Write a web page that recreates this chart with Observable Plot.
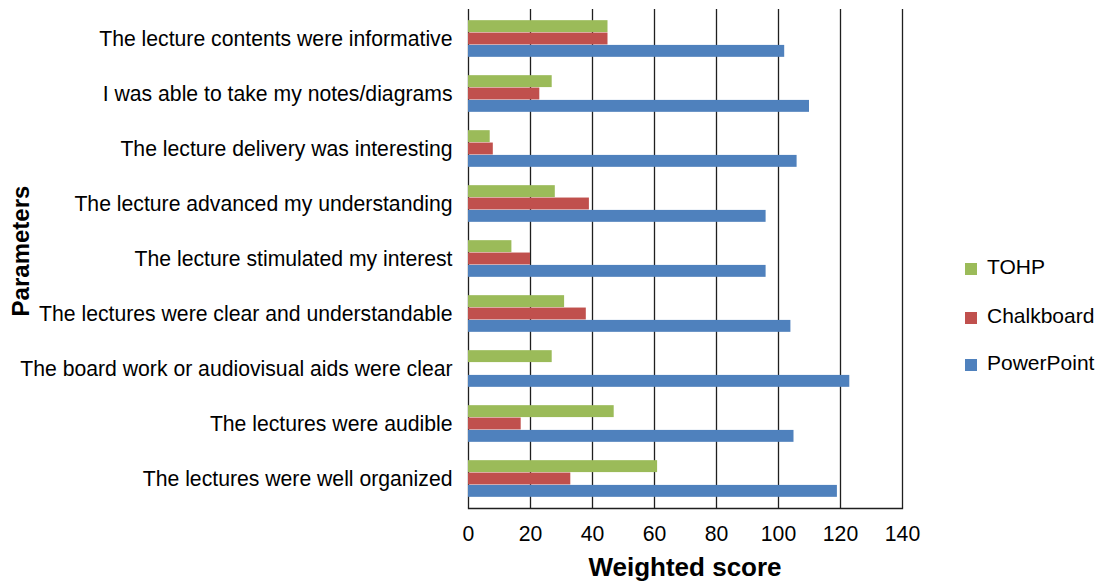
<!DOCTYPE html>
<html><head><meta charset="utf-8">
<script src="https://cdn.jsdelivr.net/npm/d3@7"></script>
<script src="https://cdn.jsdelivr.net/npm/@observablehq/plot@0.6"></script>
<style>
body{margin:0;background:#fff;}
#wrap{position:relative;width:1102px;height:582px;font-family:"Liberation Sans",Arial,sans-serif;color:#000;}
#wrap svg{position:absolute;left:0;top:0;}
.xlab{position:absolute;left:585px;top:550px;width:200px;text-align:center;font-weight:bold;font-size:26px;line-height:34px;white-space:nowrap;}
.ylab{position:absolute;left:21px;top:251px;transform:translate(-50%,-50%) rotate(-90deg);font-weight:bold;font-size:24px;line-height:30px;white-space:nowrap;}
.leg{position:absolute;left:965px;font-size:21px;line-height:24px;white-space:nowrap;}
.leg span.sw{display:inline-block;width:12px;height:12px;margin-right:10px;vertical-align:-1px;}
</style></head><body><div id="wrap"></div>
<script>
const categories = [
  "The lecture contents were informative",
  "I was able to take my notes/diagrams",
  "The lecture delivery was interesting",
  "The lecture advanced my understanding",
  "The lecture stimulated my interest",
  "The lectures were clear and understandable",
  "The board work or audiovisual aids were clear",
  "The lectures were audible",
  "The lectures were well organized"
];
const seriesNames = ["TOHP", "Chalkboard", "PowerPoint"];
const tohp = [45, 27, 7, 28, 14, 31, 27, 47, 61];
const chalkboard = [45, 23, 8, 39, 20, 38, 0, 17, 33];
const powerpoint = [102, 110, 106, 96, 96, 104, 123, 105, 119];
const colors = ["#9BBB59", "#C0504D", "#4F81BD"];
const xTicks = [0, 20, 40, 60, 80, 100, 120, 140];

const seriesValues = [tohp, chalkboard, powerpoint];
const W = 1102, H = 582, mT = 9, mB = 74, mL = 468, mR = 200;
const band = (H - mT - mB) / categories.length;
const barH = 12.37;
const groupTop = (band - 3 * barH) / 2;

const bars = seriesNames.map((s, j) => {
  const rows = categories.map((c, i) => ({category: c, series: s, value: seriesValues[j][i]}));
  const insetTop = groupTop + j * barH;
  return Plot.barX(rows, {x: "value", y: "category", fill: colors[j], insetTop, insetBottom: band - insetTop - barH});
});

const chart = Plot.plot({
  width: W, height: H,
  marginLeft: mL, marginRight: mR, marginTop: mT, marginBottom: mB,
  style: {fontSize: "21.2px", fontFamily: "'Liberation Sans', Arial, sans-serif", color: "#000", background: "transparent", overflow: "visible"},
  x: {domain: [0, 140], ticks: xTicks, tickSize: 0, tickPadding: 17, label: null},
  y: {domain: categories, padding: 0, tickSize: 0, tickPadding: 16, label: null},
  marks: [
    Plot.ruleX(xTicks, {stroke: "#1f1f1f", strokeWidth: 1.3}),
    ...bars,
    Plot.frame({anchor: "bottom", stroke: "#1f1f1f", strokeWidth: 1.3})
  ]
});
const wrap = document.getElementById("wrap");
wrap.appendChild(chart);

const xl = document.createElement("div"); xl.className = "xlab"; xl.textContent = "Weighted score"; wrap.appendChild(xl);
const yl = document.createElement("div"); yl.className = "ylab"; yl.textContent = "Parameters"; wrap.appendChild(yl);
const legTops = [255, 304, 351];
seriesNames.forEach((s, j) => {
  const d = document.createElement("div"); d.className = "leg"; d.style.top = legTops[j] + "px";
  const sw = document.createElement("span"); sw.className = "sw"; sw.style.background = colors[j];
  d.appendChild(sw); d.appendChild(document.createTextNode(s)); wrap.appendChild(d);
});
</script></body></html>
